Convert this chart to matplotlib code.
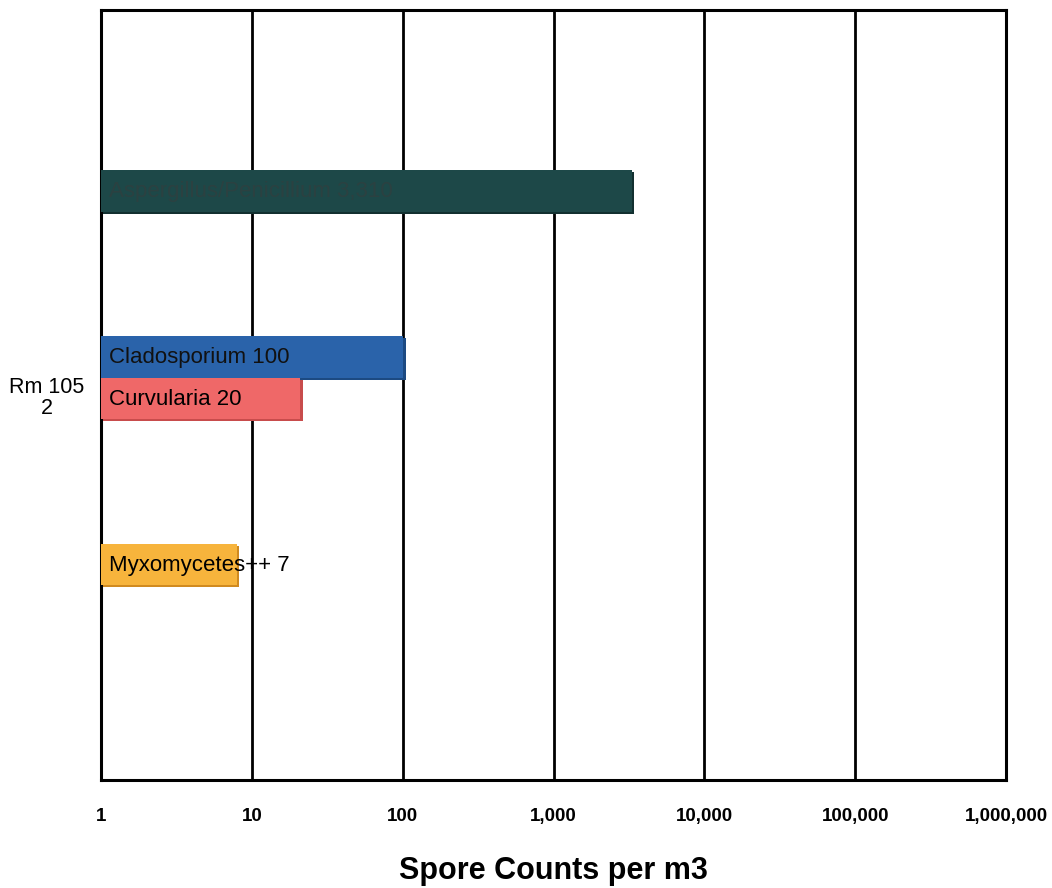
import matplotlib
matplotlib.use("Agg")
import matplotlib.pyplot as plt
from matplotlib.ticker import FixedLocator, FixedFormatter

plt.rcParams['font.family'] = ['Liberation Sans', 'DejaVu Sans']

# Spore counts per m3 for sample Rm 105 2
taxa = ["Aspergillus/Penicillium", "Cladosporium", "Curvularia", "Myxomycetes++"]
counts = [3310, 100, 20, 7]
value_text = ["3,310", "100", "20", "7"]
slots = [4, 8, 9, 13]
colors = ["#1d4848", "#2a63aa", "#ef6868", "#f7b43c"]
shade = ["#123030", "#1c4a82", "#c84c4c", "#d08a20"]
text_colors = ["#2b4141", "#111111", "black", "black"]

tick_values = [1, 10, 100, 1000, 10000, 100000, 1000000]
tick_labels = ["1", "10", "100", "1,000", "10,000", "100,000", "1,000,000"]

fig = plt.figure(figsize=(10.52, 8.88), dpi=100)
ax = fig.add_axes([101 / 1052, 1 - 780 / 888, 905 / 1052, 770 / 888])

ax.set_xscale("log")
ax.set_xlim(1, 1e6)
ax.set_ylim(18.19, -0.36)

for name, val, txt, pos, c, sc, tc in zip(taxa, counts, value_text, slots,
                                          colors, shade, text_colors):
    # darker offset gives the bars a slight raised look
    ax.barh(pos + 0.05, val * 1.04, height=1.0, left=1, color=sc, zorder=2)
    ax.barh(pos, val, height=1.0, left=1, color=c, zorder=3)
    ax.text(1.13, pos + 0.02, f"{name} {txt}", va="center", ha="left",
            fontsize=16, color=tc, zorder=4)

ax.xaxis.set_major_locator(FixedLocator(tick_values))
ax.xaxis.set_major_formatter(FixedFormatter(tick_labels))
ax.xaxis.set_minor_locator(FixedLocator([]))
ax.tick_params(axis="x", length=0, pad=20, labelsize=13.5)
for lbl in ax.get_xticklabels():
    lbl.set_fontweight("bold")
ax.set_yticks([])
ax.grid(axis="x", color="black", linewidth=2, zorder=1)
ax.set_axisbelow(True)
for sp in ax.spines.values():
    sp.set_linewidth(2.2)
    sp.set_color("black")

fig.text(47 / 1052, 1 - 398 / 888, "Rm 105\n2", ha="center", va="center",
         fontsize=15.5, linespacing=1.0)
fig.text(553 / 1052, 1 - 871 / 888, "Spore Counts per m3", ha="center",
         va="center", fontsize=22, fontweight="bold")

fig.savefig("out.png", dpi=100, facecolor="white")
